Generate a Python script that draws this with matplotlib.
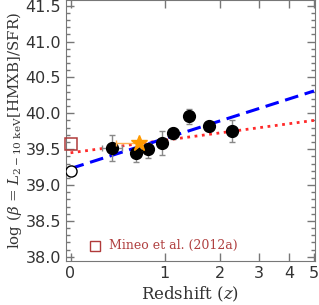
import numpy as np
import matplotlib
matplotlib.use('Agg')
import matplotlib.pyplot as plt
from matplotlib.ticker import MultipleLocator

# stacked detections (black filled circles)
z_pts = [0.354, 0.623, 0.765, 0.956, 1.131, 1.391, 1.777, 2.29]
beta_pts = [39.52, 39.45, 39.50, 39.59, 39.72, 39.96, 39.83, 39.76]
err_lo = [0.19, 0.13, 0.12, 0.17, 0.08, 0.11, 0.07, 0.16]
err_hi = [0.18, 0.06, 0.09, 0.17, 0.08, 0.10, 0.05, 0.14]
zerr_lo = [0.096, 0, 0, 0, 0, 0, 0, 0]
zerr_hi = [0.103, 0, 0, 0, 0, 0, 0, 0]

# local value (open circle) and Mineo et al. (square)
z_local, beta_local, beta_local_err = 0.0, 39.20, 0.05
z_mineo, beta_mineo = 0.0, 39.57
# star
z_star, beta_star = 0.659, 39.59
zstar_lo, zstar_hi = 0.26, 0.03

# fits: beta = a + b*log(1+z)
blue_a, blue_b = 39.23, 1.39
red_a, red_b = 39.45, 0.58
z_fit = [0.0, 5.0]

xticks_z = [0, 1, 2, 3, 4, 5]

plt.rcParams['font.family'] = 'DejaVu Serif'
plt.rcParams['mathtext.fontset'] = 'dejavuserif'

def lx(z):
    return np.log10(1 + np.asarray(z, dtype=float))

fig = plt.figure(figsize=(3.19, 3.05), dpi=100)
ax = fig.add_axes([0.207, 0.144, 0.78, 0.856])

gray = '#777777'
zf = np.linspace(z_fit[0], z_fit[1], 50)
ax.plot(lx(zf), red_a + red_b * lx(zf), ':', color='#ff2a2a', lw=2.0, zorder=2)
ax.plot(lx(zf), blue_a + blue_b * lx(zf), '--', color='#0000ff', lw=2.2,
        dashes=(4.5, 2.2), zorder=3)

zp = np.array(z_pts)
xl = lx(zp) - lx(zp - np.array(zerr_lo))
xh = lx(zp + np.array(zerr_hi)) - lx(zp)
ax.errorbar(lx(zp), beta_pts, yerr=[err_lo, err_hi], xerr=[xl, xh], fmt='o',
            color='black', ms=8.5, ecolor='#888888', elinewidth=1, capsize=2,
            capthick=1, zorder=5)

ax.errorbar([lx(z_local)], [beta_local], yerr=[[beta_local_err], [beta_local_err]],
            fmt='o', mfc='white', mec='black', mew=1.0, ms=8, ecolor='#888888',
            elinewidth=1, capsize=2, zorder=5)
ax.plot([lx(z_mineo)], [beta_mineo], 's', mfc='none', mec='#b03a3a', mew=1.1,
        ms=8, zorder=5, clip_on=False)

sx = lx(z_star)
ax.errorbar([sx], [beta_star],
            xerr=[[sx - lx(z_star - zstar_lo)], [lx(z_star + zstar_hi) - sx]],
            fmt='*', color='#ff9a00', ms=12, ecolor='#ffb050', elinewidth=1,
            capsize=2, zorder=6)

# legend entry
ax.plot([0.078], [38.157], 's', mfc='none', mec='#b03a3a', mew=1.0, ms=7.5)
ax.text(0.124, 38.157, 'Mineo et al. (2012a)', color='#b04040', fontsize=9,
        va='center', ha='left')

ax.set_xlim(-0.0144, 0.781)
ax.set_ylim(37.94, 41.58)
ax.set_xticks(lx(xticks_z))
ax.set_xticklabels([str(t) for t in xticks_z])
ax.yaxis.set_major_locator(MultipleLocator(0.5))
ax.yaxis.set_minor_locator(MultipleLocator(0.1))
ax.yaxis.set_major_formatter(matplotlib.ticker.FormatStrFormatter('%.1f'))

ax.tick_params(which='both', direction='in', top=True, right=True, colors=gray,
               labelcolor='#333333')
ax.tick_params(which='major', length=6, width=1)
ax.tick_params(which='minor', length=3, width=1)
ax.tick_params(axis='both', labelsize=11.5)
for lbl in ax.get_xticklabels() + ax.get_yticklabels():
    lbl.set_family('DejaVu Sans')
for s in ax.spines.values():
    s.set_color(gray)

ax.set_xlabel('Redshift ($z$)', fontsize=12, color='#333333', labelpad=3)
ax.set_ylabel(r'log ($\beta$ = $L_{\rm 2-10\ keV}\left[{\rm HMXB}\right]/{\rm SFR}$)',
              fontsize=10.8, color='#333333', labelpad=1)

fig.savefig('out.png', dpi=100)
